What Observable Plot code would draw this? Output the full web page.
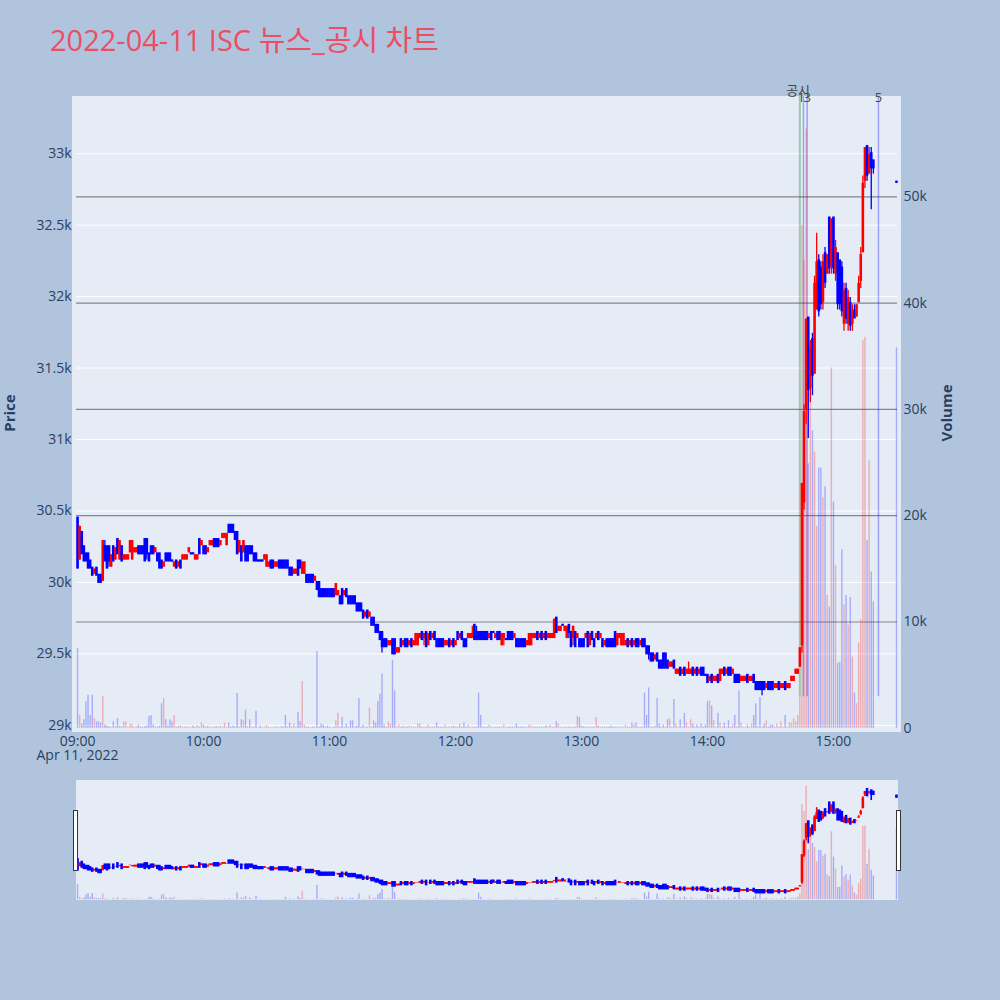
<!DOCTYPE html>
<html><head><meta charset="utf-8">
<script src="https://cdn.jsdelivr.net/npm/d3@7"></script>
<script src="https://cdn.jsdelivr.net/npm/@observablehq/plot@0.6"></script>
<style>
body{margin:0;background:#B0C4DE;}
#wrap{position:relative;width:1000px;height:1000px;background:#B0C4DE;overflow:hidden;font-family:"Open Sans","Noto Sans CJK KR",sans-serif;}
.layer{position:absolute;left:0;top:0;}
.layer svg{background:transparent;overflow:visible;}
.bg{position:absolute;background:#E5ECF6;}
.handle{position:absolute;width:3px;height:59px;background:#fff;border:1px solid #333;}
.ytitle{position:absolute;transform:translate(-50%,-50%) rotate(-90deg);font-weight:bold;font-size:15px;color:#2a3f5f;white-space:nowrap;}
</style></head><body><div id="wrap"></div>
<script>
// ---------- data ----------
const chartTitle = "2022-04-11 ISC 뉴스_공시 차트";
const tradeDate = "2022-04-11";
const sessionStart = "09:00";   // one candle per minute from here
const dateLabel = "Apr 11, 2022";

const openPrices = [
30450,30150,30350,30250,30200,30200,30150,30100,30050,30100,
30050,30050,30000,30250,30250,30250,30100,30250,30150,30300,
30150,30250,30150,30150,30150,30200,30150,30200,30200,30250,
30250,30250,30300,30300,30200,30250,30250,30200,30200,30200,
30150,30100,30200,30200,30200,30150,30100,30150,30100,30150,
30150,30150,30150,30200,30200,30200,30150,30150,30300,30250,
30250,30250,30200,30250,30250,30300,30300,30300,30250,30300,
30300,30250,30400,30400,30400,30350,30350,30200,30250,30200,
30250,30250,30250,30250,30200,30200,30150,30150,30150,30150,
30100,30100,30150,30150,30100,30100,30150,30150,30150,30150,
30150,30100,30100,30050,30050,30150,30150,30050,30050,30050,
30050,30050,30050,30000,30000,30000,29950,29950,29950,29950,
29950,29950,29950,29900,29900,29900,29950,29900,29950,29900,
29900,29900,29900,29850,29850,29850,29800,29750,29800,29750,
29750,29750,29700,29700,29650,29650,29600,29600,29550,29550,
29600,29600,29500,29500,29600,29550,29600,29600,29550,29600,
29550,29550,29550,29600,29650,29600,29650,29550,29650,29600,
29650,29600,29600,29600,29600,29550,29550,29600,29550,29600,
29550,29650,29600,29650,29600,29600,29600,29600,29600,29700,
29650,29650,29650,29650,29650,29650,29600,29650,29650,29600,
29650,29650,29550,29600,29600,29650,29650,29650,29600,29600,
29600,29600,29600,29600,29550,29550,29550,29600,29600,29650,
29600,29650,29600,29650,29600,29600,29600,29600,29750,29650,
29650,29700,29650,29600,29700,29650,29600,29650,29600,29600,
29600,29600,29600,29650,29550,29650,29600,29600,29650,29600,
29600,29550,29600,29600,29600,29600,29650,29550,29600,29550,
29550,29550,29600,29550,29600,29550,29600,29600,29550,29600,
29600,29550,29550,29500,29500,29450,29500,29450,29450,29500,
29500,29450,29400,29400,29450,29350,29350,29400,29350,29400,
29350,29350,29350,29400,29350,29400,29350,29400,29400,29350,
29350,29300,29350,29300,29300,29350,29300,29350,29400,29350,
29400,29400,29350,29350,29350,29350,29300,29300,29300,29350,
29300,29300,29350,29300,29300,29300,29300,29300,29250,29300,
29300,29300,29250,29250,29300,29250,29250,29300,29250,29250,
29300,29300,29350,29350,29400,29550,30550,31200,31850,31350,
31700,31450,31900,32250,32200,31950,32300,32150,32550,32200,
32550,32150,32300,32250,32200,31800,32050,31800,31950,31800,
31900,31850,31950,32100,32300,32800,33050,32850,33000,32950];

const highPrices = [
30450,30400,30350,30250,30200,30200,30150,30100,30100,30100,
30050,30050,30300,30300,30250,30250,30200,30250,30250,30300,
30300,30250,30200,30200,30200,30300,30300,30250,30250,30250,
30250,30250,30300,30300,30200,30250,30250,30250,30200,30200,
30150,30150,30200,30200,30200,30150,30150,30150,30150,30150,
30200,30200,30200,30250,30200,30200,30200,30200,30300,30300,
30250,30250,30250,30300,30300,30300,30300,30300,30300,30350,
30350,30350,30400,30400,30400,30350,30350,30300,30250,30300,
30250,30250,30250,30250,30200,30200,30150,30150,30150,30200,
30200,30150,30150,30150,30150,30150,30150,30150,30150,30150,
30150,30100,30100,30100,30100,30150,30150,30150,30150,30050,
30050,30050,30050,30050,30000,30000,29950,29950,29950,29950,
29950,29950,29950,30000,29950,29900,29950,29950,29950,29900,
29900,29900,29900,29850,29850,29850,29800,29800,29800,29800,
29750,29750,29700,29700,29650,29650,29600,29600,29600,29600,
29600,29600,29550,29550,29600,29600,29600,29600,29600,29600,
29600,29650,29650,29650,29650,29650,29650,29650,29650,29650,
29650,29600,29600,29600,29600,29600,29600,29600,29600,29600,
29600,29650,29650,29650,29600,29600,29650,29650,29700,29700,
29700,29650,29650,29650,29650,29650,29650,29650,29650,29650,
29650,29650,29650,29650,29600,29650,29650,29650,29650,29600,
29600,29600,29600,29600,29600,29650,29650,29650,29650,29650,
29650,29650,29650,29650,29650,29650,29650,29750,29750,29700,
29700,29700,29700,29700,29700,29650,29700,29650,29650,29600,
29600,29600,29650,29650,29650,29650,29600,29650,29650,29650,
29600,29600,29600,29600,29600,29600,29650,29650,29650,29650,
29650,29600,29600,29600,29600,29600,29600,29600,29600,29600,
29600,29550,29550,29500,29500,29500,29500,29450,29450,29500,
29500,29450,29450,29450,29450,29400,29400,29400,29400,29400,
29400,29450,29400,29400,29400,29400,29400,29400,29400,29350,
29350,29350,29350,29350,29350,29350,29400,29400,29400,29400,
29400,29400,29400,29350,29350,29350,29350,29350,29350,29350,
29350,29350,29350,29300,29300,29300,29300,29300,29300,29300,
29300,29300,29300,29300,29300,29300,29300,29300,29300,29300,
29350,29350,29400,29400,29550,30700,31250,31850,31850,31700,
31750,32150,32450,32300,32250,32300,32350,32300,32550,32550,
32550,32400,32300,32250,32250,32100,32100,32050,32000,31950,
31950,31950,32150,32350,32850,33050,33050,33050,33050,32950];

const lowPrices = [
30100,30150,30200,30150,30150,30100,30100,30050,30050,30050,
30000,30000,30000,30150,30100,30100,30100,30150,30150,30200,
30150,30150,30150,30150,30150,30200,30150,30200,30200,30200,
30200,30200,30150,30150,30150,30200,30200,30200,30150,30100,
30100,30100,30150,30150,30150,30150,30100,30100,30100,30100,
30150,30150,30150,30200,30200,30200,30150,30150,30200,30250,
30200,30200,30200,30250,30250,30250,30250,30250,30250,30300,
30300,30250,30350,30350,30350,30300,30200,30200,30150,30200,
30150,30150,30200,30200,30150,30150,30150,30150,30150,30150,
30100,30100,30100,30100,30100,30100,30100,30100,30100,30100,
30100,30050,30050,30050,30050,30050,30100,30050,30050,30000,
30000,30000,30000,30000,29950,29900,29900,29900,29900,29900,
29900,29900,29900,29900,29900,29850,29850,29900,29900,29850,
29850,29850,29850,29800,29800,29800,29750,29750,29750,29750,
29700,29700,29650,29650,29600,29500,29550,29550,29550,29550,
29500,29500,29500,29500,29550,29550,29550,29550,29550,29550,
29550,29550,29550,29600,29600,29550,29550,29550,29600,29600,
29600,29550,29550,29550,29550,29550,29550,29550,29550,29550,
29550,29600,29600,29600,29550,29550,29600,29600,29600,29600,
29600,29600,29600,29600,29600,29600,29600,29600,29650,29600,
29600,29600,29550,29550,29600,29600,29600,29600,29600,29550,
29550,29550,29550,29550,29550,29550,29550,29600,29600,29600,
29600,29600,29600,29600,29600,29600,29600,29600,29650,29650,
29650,29700,29650,29600,29600,29550,29550,29550,29600,29550,
29550,29550,29600,29550,29550,29600,29550,29600,29600,29600,
29550,29550,29550,29550,29550,29550,29550,29550,29600,29550,
29550,29550,29550,29550,29550,29550,29550,29550,29550,29550,
29550,29500,29450,29450,29450,29450,29450,29400,29400,29400,
29400,29400,29400,29400,29400,29350,29350,29350,29350,29350,
29350,29350,29350,29350,29350,29350,29350,29350,29350,29350,
29300,29300,29300,29300,29300,29300,29300,29350,29350,29350,
29350,29350,29350,29300,29300,29300,29300,29300,29300,29300,
29300,29300,29300,29250,29250,29250,29200,29250,29250,29250,
29250,29250,29250,29250,29250,29250,29250,29250,29250,29250,
29300,29300,29350,29350,29400,29500,30500,31100,31000,31250,
31300,31450,31900,31850,31900,31900,32050,32150,32150,32150,
32150,32100,31900,31900,31850,31750,31800,31750,31750,31750,
31850,31850,31950,32050,32300,32750,32800,32850,32600,32850];

const closePrices = [
30100,30400,30200,30150,30150,30100,30100,30050,30100,30050,
30000,30000,30300,30150,30100,30150,30200,30150,30250,30200,
30300,30150,30200,30200,30200,30300,30300,30250,30250,30200,
30200,30200,30150,30200,30150,30200,30200,30250,30150,30100,
30100,30150,30150,30150,30150,30150,30150,30100,30150,30100,
30200,30200,30200,30250,30200,30200,30200,30200,30200,30300,
30200,30200,30250,30300,30300,30250,30250,30250,30300,30350,
30350,30350,30350,30350,30350,30300,30200,30300,30150,30300,
30150,30150,30200,30200,30150,30150,30150,30150,30150,30200,
30200,30150,30100,30100,30150,30150,30100,30100,30100,30100,
30100,30050,30050,30100,30100,30050,30100,30150,30150,30000,
30000,30000,30000,30050,29950,29900,29900,29900,29900,29900,
29900,29900,29900,30000,29950,29850,29850,29950,29900,29850,
29850,29850,29850,29800,29800,29800,29750,29800,29750,29800,
29700,29700,29650,29650,29600,29550,29550,29550,29600,29600,
29500,29500,29550,29550,29550,29600,29550,29550,29600,29550,
29600,29650,29650,29650,29600,29650,29550,29650,29600,29650,
29600,29550,29550,29550,29550,29600,29600,29550,29600,29550,
29600,29600,29650,29600,29550,29550,29650,29650,29650,29600,
29600,29600,29600,29600,29600,29600,29650,29600,29650,29650,
29600,29600,29650,29650,29600,29600,29600,29600,29650,29550,
29550,29550,29550,29550,29600,29650,29650,29650,29650,29600,
29650,29600,29650,29600,29650,29650,29650,29750,29650,29700,
29700,29700,29700,29700,29650,29550,29700,29550,29650,29550,
29550,29550,29650,29550,29650,29600,29550,29650,29600,29650,
29550,29600,29550,29550,29550,29550,29550,29650,29650,29650,
29650,29600,29550,29600,29550,29600,29550,29550,29600,29550,
29550,29500,29500,29450,29450,29500,29450,29400,29400,29400,
29400,29400,29450,29450,29400,29400,29400,29350,29400,29350,
29400,29400,29400,29350,29400,29350,29400,29350,29350,29350,
29300,29350,29300,29350,29350,29300,29400,29400,29350,29400,
29350,29350,29400,29300,29300,29300,29350,29350,29350,29300,
29350,29350,29300,29250,29250,29250,29250,29250,29300,29250,
29250,29250,29300,29300,29250,29300,29300,29250,29300,29300,
29350,29350,29400,29400,29550,30700,31200,31850,31350,31650,
31450,32100,32250,31900,31950,32250,32100,32300,32200,32550,
32200,32350,31950,31950,31900,32050,31850,32000,31800,31900,
31850,31950,32100,32300,32800,33050,32850,33000,32900,32900];

const volumes = [
7500,1200,400,800,2500,3100,1200,3100,900,600,
600,500,3000,300,200,150,100,600,150,900,
200,150,600,600,100,400,350,100,150,300,
100,100,150,200,1100,1200,300,150,100,200,
2300,2800,800,200,800,600,1200,100,200,200,
100,100,150,100,50,200,100,250,100,500,
300,100,200,100,100,100,150,100,200,100,
500,100,500,100,200,100,3300,100,800,700,
1700,100,800,100,100,1600,50,200,50,100,
250,100,50,50,100,150,50,150,100,1200,
100,500,100,400,100,1500,600,4400,300,100,
100,50,100,100,7200,100,400,300,100,200,
100,50,100,700,1400,100,1000,100,400,100,
700,700,100,200,2800,100,300,100,100,1900,
100,700,500,2500,3200,5100,300,100,600,400,
6400,3500,100,300,100,200,100,100,200,100,
100,100,400,400,100,100,100,300,100,100,
100,500,100,100,100,300,100,100,100,200,
100,100,400,100,500,100,300,100,100,100,
100,3300,1200,100,100,100,300,100,50,100,
100,100,100,300,50,100,100,100,100,400,
100,100,100,100,100,300,200,100,100,100,
100,100,100,200,100,300,100,100,600,400,
100,50,100,100,100,100,100,100,1100,1000,
200,100,100,100,100,100,100,1000,200,100,
100,100,100,100,200,100,100,100,100,100,
100,300,100,100,500,300,500,100,100,100,
3300,1200,3800,100,100,200,2800,400,100,300,
100,800,900,100,2700,400,100,800,100,1400,
500,100,800,400,100,300,100,400,100,300,
2500,2600,2100,700,100,1400,500,100,500,100,
700,100,400,1200,100,3500,500,100,100,300,
100,400,1200,2300,100,2900,100,400,700,100,
300,300,100,400,100,600,100,1200,100,500,
500,900,600,1200,3000,47300,44000,56400,24900,32000,
28000,26000,19000,24500,24500,21700,22700,12500,11400,33900,
21300,15300,6100,6200,16800,11600,12500,9700,12300,6700,
3300,2300,8000,10200,36500,36800,17700,25200,14700,11900];

// closing single-price auction
const auctionTime = "15:30";
const auctionPrice = 32800;
const auctionVolume = 35800;

// news / disclosure markers
const newsTimes = ["14:44:00", "14:45:43", "14:47:28", "15:21:26"];
const newsKinds = ["공시", "뉴스", "뉴스", "뉴스"];
const newsLabelTimes = ["14:43:10", "14:44:36", "14:47:28", "15:21:26"];
const newsLabels = ["공시", "1", "3", "5"];

const priceTicks = [29000, 29500, 30000, 30500, 31000, 31500, 32000, 32500, 33000];
const volumeTicks = [0, 10000, 20000, 30000, 40000, 50000];
const hourTicks = ["09:00", "10:00", "11:00", "12:00", "13:00", "14:00", "15:00"];

// ---------- build ----------
const parseTime = d3.timeParse("%Y-%m-%d %H:%M:%S");
const at = s => parseTime(`${tradeDate} ${s.length === 5 ? s + ":00" : s}`);
const start = at(sessionStart);

const candles = openPrices.map((o, i) => ({
  time: d3.timeMinute.offset(start, i),
  open: o, high: highPrices[i], low: lowPrices[i], close: closePrices[i], volume: volumes[i]
}));
candles.push({time: at(auctionTime), open: auctionPrice, high: auctionPrice, low: auctionPrice, close: auctionPrice, volume: auctionVolume});

const UP = "#FF0000", DOWN = "#0000FF";
const colorOf = d => d.close > d.open ? UP : DOWN;

const news = newsTimes.map((t, i) => ({time: at(t), kind: newsKinds[i]}));
const labels = newsLabelTimes.map((t, i) => ({time: at(t), text: newsLabels[i]}));

const xDomain = [at("08:59:30"), at("15:30:30")];
const priceDomain = [28950, 33400];
const volumeDomain = [-400, 59450];
const dayLow = d3.min(lowPrices);

const FONT = '"Open Sans","Noto Sans CJK KR",sans-serif';
const baseStyle = {background: "transparent", fontFamily: FONT, fontSize: "14px", color: "#2a3f5f", overflow: "visible"};
const mainFrame = {width: 1000, height: 1000, marginTop: 96, marginBottom: 268, marginLeft: 76, marginRight: 103};
const sliderFrame = {width: 1000, height: 120, marginTop: 0, marginBottom: 0, marginLeft: 76, marginRight: 103};

const wrap = document.getElementById("wrap");
function addDiv(cls, css, html) {
  const d = document.createElement("div");
  d.className = cls;
  Object.assign(d.style, css);
  if (html != null) d.textContent = html;
  wrap.appendChild(d);
  return d;
}
function addLayer(svg, top) {
  const d = addDiv("layer", {top: top + "px"});
  d.appendChild(svg);
}

// title
addDiv("", {position: "absolute", left: "50px", top: "25px", fontSize: "29px", lineHeight: "29px",
  color: "#EA4F64", fontFamily: FONT, whiteSpace: "nowrap"}, chartTitle);

// plot backgrounds
addDiv("bg", {left: "72px", top: "96px", width: "829px", height: "636px"});
addDiv("bg", {left: "76px", top: "780px", width: "822px", height: "120px"});

const candleMarks = (wick, body, ext) => [
  Plot.ruleX(candles, {x: "time", y1: "low", y2: "high", stroke: colorOf, strokeWidth: wick, insetTop: -ext, insetBottom: -ext}),
  Plot.ruleX(candles, {x: "time", y1: "open", y2: "close", stroke: colorOf, strokeWidth: body, insetTop: -ext, insetBottom: -ext})
];
const volumeMarks = (w) => [
  Plot.ruleX(candles, {x: "time", y1: 0, y2: "volume", stroke: colorOf, strokeOpacity: 0.27, strokeWidth: w})
];

// L1: price grid + axes
addLayer(Plot.plot({
  ...mainFrame, style: baseStyle,
  x: {type: "time", domain: xDomain},
  y: {domain: priceDomain},
  marks: [
    Plot.ruleY(priceTicks, {stroke: "white", strokeWidth: 1}),
    Plot.axisY(priceTicks, {tickFormat: d => d / 1000 + "k", tickSize: 0, tickPadding: 5, label: null, fill: "#2a3f5f"}),
    Plot.axisX(hourTicks.map(at), {tickFormat: d3.timeFormat("%H:%M"), tickSize: 0, tickPadding: 4, label: null, fill: "#2a3f5f"}),
    Plot.text([dateLabel], {x: () => start, frameAnchor: "bottom", dy: 27, text: d => d, fill: "#2a3f5f", fontSize: 14})
  ]
}), 0);

// L2: volume grid + right axis
addLayer(Plot.plot({
  ...mainFrame, style: baseStyle,
  x: {type: "time", domain: xDomain, axis: null},
  y: {domain: volumeDomain},
  marks: [
    Plot.ruleY(volumeTicks.filter(d => d > 0), {stroke: "#868686", strokeWidth: 1.2}),
    Plot.axisY(volumeTicks, {anchor: "right", tickFormat: d => d === 0 ? "0" : d / 1000 + "k", tickSize: 0, tickPadding: 6, label: null, fill: "#2a3f5f"})
  ]
}), 0);

// L3: news lines + candles
addLayer(Plot.plot({
  ...mainFrame, style: baseStyle,
  x: {type: "time", domain: xDomain, axis: null},
  y: {domain: priceDomain, axis: null},
  marks: [
    Plot.ruleX(news, {x: "time", y1: dayLow, y2: priceDomain[1],
      stroke: d => d.kind === "공시" ? "green" : "blue", strokeOpacity: 0.32,
      strokeWidth: d => d.kind === "공시" ? 2 : 1.5}),
    ...candleMarks(1.3, 2.6, 1),
    Plot.text(labels.filter(d => d.text === "공시"), {x: "time", y: priceDomain[1], text: "text", dy: -6, fontSize: 13, fill: "#444"}),
    Plot.text(labels.filter(d => d.text !== "공시"), {x: "time", y: priceDomain[1], text: "text", dy: 1, fontSize: 13, fill: "#444"})
  ]
}), 0);

// L4: volume bars
addLayer(Plot.plot({
  ...mainFrame, style: baseStyle,
  x: {type: "time", domain: xDomain, axis: null},
  y: {domain: volumeDomain, axis: null},
  marks: volumeMarks(1.4)
}), 0);

// range slider
addLayer(Plot.plot({
  ...sliderFrame, style: baseStyle,
  x: {type: "time", domain: xDomain, axis: null},
  y: {domain: priceDomain, axis: null},
  marks: candleMarks(1.6, 2.6, 1.5)
}), 780);
addLayer(Plot.plot({
  ...sliderFrame, style: baseStyle,
  x: {type: "time", domain: xDomain, axis: null},
  y: {domain: volumeDomain, axis: null},
  marks: volumeMarks(1.4)
}), 780);

addDiv("handle", {left: "73px", top: "810px"});
addDiv("handle", {left: "896px", top: "810px"});

// axis titles
addDiv("ytitle", {left: "9px", top: "413px", fontFamily: FONT}, "Price");
addDiv("ytitle", {left: "946px", top: "413px", fontFamily: FONT}, "Volume");
</script></body></html>
